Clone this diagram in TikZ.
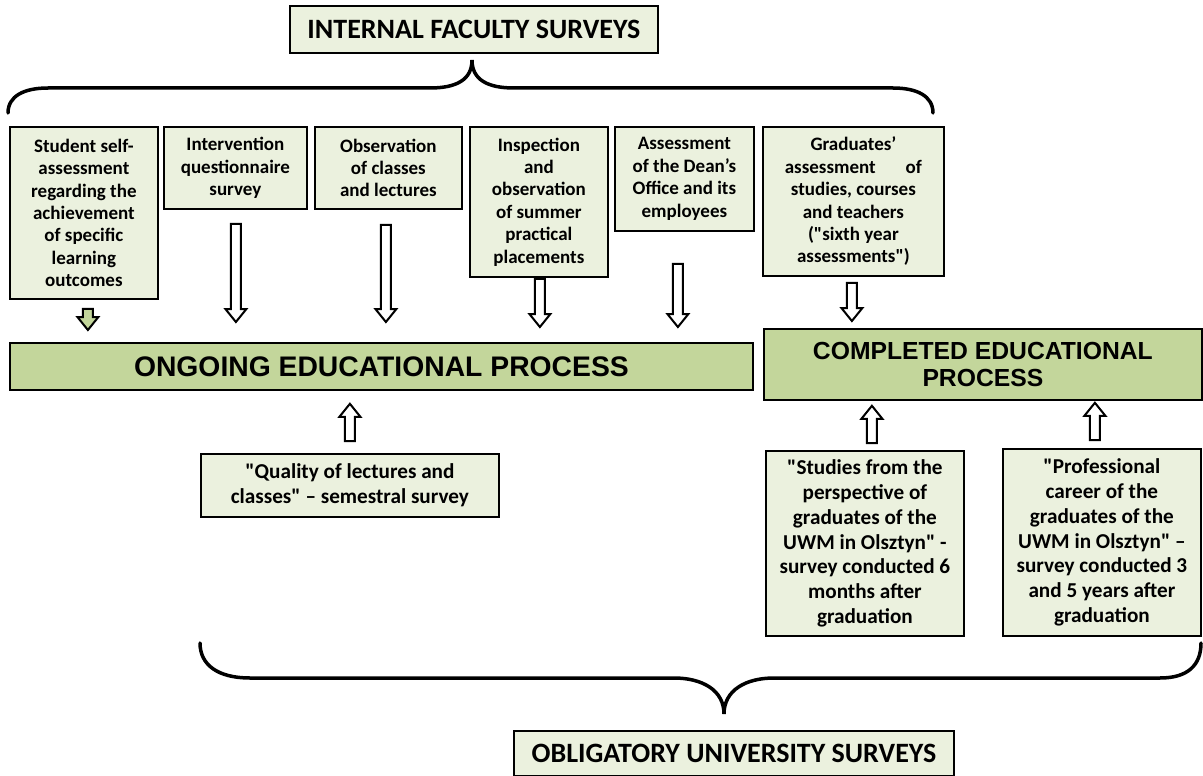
\documentclass[tikz,border=0pt]{standalone}
\usepackage{fontspec}
\setmainfont{Carlito}[Ligatures=TeXOff]
\newfontfamily\arialfam{Liberation Sans}[Ligatures=TeXOff]
\usetikzlibrary{calc}
\definecolor{lightfill}{HTML}{EBF1DE}
\definecolor{procfill}{HTML}{C3D69B}
\tikzset{
  boxbase/.style={draw=black, line width=1.8pt, inner sep=0pt, align=center, anchor=north west},
  smallbox/.style 2 args={boxbase, fill=lightfill, minimum width=#1pt, minimum height=#2pt,
     font=\fontsize{19pt}{22.4pt}\selectfont\bfseries},
  midbox/.style 2 args={boxbase, fill=lightfill, minimum width=#1pt, minimum height=#2pt,
     font=\fontsize{21.2pt}{24.7pt}\selectfont\bfseries},
  titlebox/.style 2 args={boxbase, fill=lightfill, minimum width=#1pt, minimum height=#2pt,
     font=\fontsize{28pt}{32pt}\selectfont\bfseries},
  procbox/.style 2 args={boxbase, fill=procfill, minimum width=#1pt, minimum height=#2pt,
     font=\arialfam\fontsize{24.7pt}{27pt}\selectfont\bfseries},
  arrowline/.style={draw=black, line width=2pt, line join=miter},
  bracestyle/.style={draw=black, line width=3.5pt, line cap=round}
}
\newcommand\hollowarrow[3][white]{%
  \coordinate (hb) at ($(#3)!13pt!(#2)$);
  \draw[arrowline, fill=#1]
    ($(#2)!5pt!90:(#3)$) -- ($(hb)!5pt!90:(#3)$) -- ($(hb)!10.5pt!90:(#3)$) -- (#3)
    -- ($(hb)!10.5pt!-90:(#3)$) -- ($(hb)!5pt!-90:(#3)$) -- ($(#2)!5pt!-90:(#3)$) -- cycle;}
\begin{document}
\begin{tikzpicture}[x=1pt,y=-1pt]
\useasboundingbox (0,0) rectangle (1203,776);
\fill[white] (0,0) rectangle (1203,776);

% titles
\node[titlebox={368}{47}] (internal) at (289,5) {INTERNAL FACULTY SURVEYS};
\node[titlebox={440}{45}] (obligatory) at (513,730) {OBLIGATORY UNIVERSITY SURVEYS};

% top boxes
\node[smallbox={148}{172}] (b1) at (9,126) {Student self-\\assessment\\regarding the\\achievement\\of specific\\learning\\outcomes};
\node[smallbox={143}{82}] (b2) at (163,126) {Intervention\\questionnaire\\survey};
\node[smallbox={147}{82}] (b3) at (314,126) {Observation\\of classes\\and lectures};
\node[smallbox={138}{150}] (b4) at (469,126) {Inspection\\and\\observation\\of summer\\practical\\placements};
\node[smallbox={139}{104}] (b5) at (614,126) {Assessment\\of the Dean’s\\Office and its\\employees};
\node[smallbox={181}{149}] (b6) at (762,126) {Graduates’\\assessment\hspace{30pt}of\\studies, courses\\and teachers\\("sixth year\\assessments")};

% process boxes
\node[procbox={743}{47}, font=\arialfam\fontsize{28.3pt}{31pt}\selectfont\bfseries] (ongoing) at (9,342) {ONGOING EDUCATIONAL PROCESS};
\node[procbox={438}{71}] (completed) at (763,328) {COMPLETED EDUCATIONAL\\PROCESS};

% bottom boxes
\node[midbox={298}{63}] (quality) at (200,453) {"Quality of lectures and\\classes" – semestral survey};
\node[midbox={198}{185}] (studies) at (765,450) {"Studies from the\\perspective of\\graduates of the\\UWM in Olsztyn" -\\survey conducted 6\\months after\\graduation};
\node[midbox={198}{187}] (prof) at (1002,448) {"Professional\\career of the\\graduates of the\\UWM in Olsztyn" –\\survey conducted 3\\and 5 years after\\graduation};

% braces
\draw[bracestyle] (8,113) .. controls (8,96) and (24,88) .. (48,88) -- (430,88)
  .. controls (456,88) and (472,80) .. (472,60)
  .. controls (472,80) and (488,88) .. (514,88) -- (893,88)
  .. controls (917,88) and (933,96) .. (933,113);
\draw[bracestyle] (200,643) .. controls (200,665) and (218,678) .. (250,678) -- (674,678)
  .. controls (702,678) and (724,690) .. (724,714)
  .. controls (724,690) and (746,678) .. (774,678) -- (1160,678)
  .. controls (1188,678) and (1201,665) .. (1201,643);

% arrow end points
\coordinate (a1s) at ($(b1.south)+(4,9)$);     \coordinate (a1e) at ($(a1s |- ongoing.north)+(0,-12)$);
\coordinate (a2s) at ($(b2.south)+(0.5,14)$);  \coordinate (a2e) at ($(a2s |- ongoing.north)+(0,-20)$);
\coordinate (a3s) at ($(b3.south)+(-2.5,15)$); \coordinate (a3e) at ($(a3s |- ongoing.north)+(0,-20)$);
\coordinate (a4s) at ($(b4.south)+(1,1)$);     \coordinate (a4e) at ($(a4s |- ongoing.north)+(0,-15)$);
\coordinate (a5s) at ($(b5.south)+(-6.5,32)$); \coordinate (a5e) at ($(a5s |- ongoing.north)+(0,-15)$);
\coordinate (a6s) at ($(b6.south)+(-1.5,6)$);  \coordinate (a6e) at ($(a6s |- completed.north)+(0,-7)$);
\coordinate (u1s) at ($(quality.north)+(0,-12)$); \coordinate (u1e) at ($(u1s |- ongoing.south)+(0,13)$);
\coordinate (u2s) at ($(studies.north)+(7,-7)$);  \coordinate (u2e) at ($(u2s |- completed.south)+(0,5)$);
\coordinate (u3s) at ($(prof.north)+(-7,-8)$);    \coordinate (u3e) at ($(u3s |- completed.south)+(0,2)$);

\hollowarrow[procfill]{a1s}{a1e}
\hollowarrow{a2s}{a2e}
\hollowarrow{a3s}{a3e}
\hollowarrow{a4s}{a4e}
\hollowarrow{a5s}{a5e}
\hollowarrow{a6s}{a6e}
\hollowarrow{u1s}{u1e}
\hollowarrow{u2s}{u2e}
\hollowarrow{u3s}{u3e}
\end{tikzpicture}
\end{document}
